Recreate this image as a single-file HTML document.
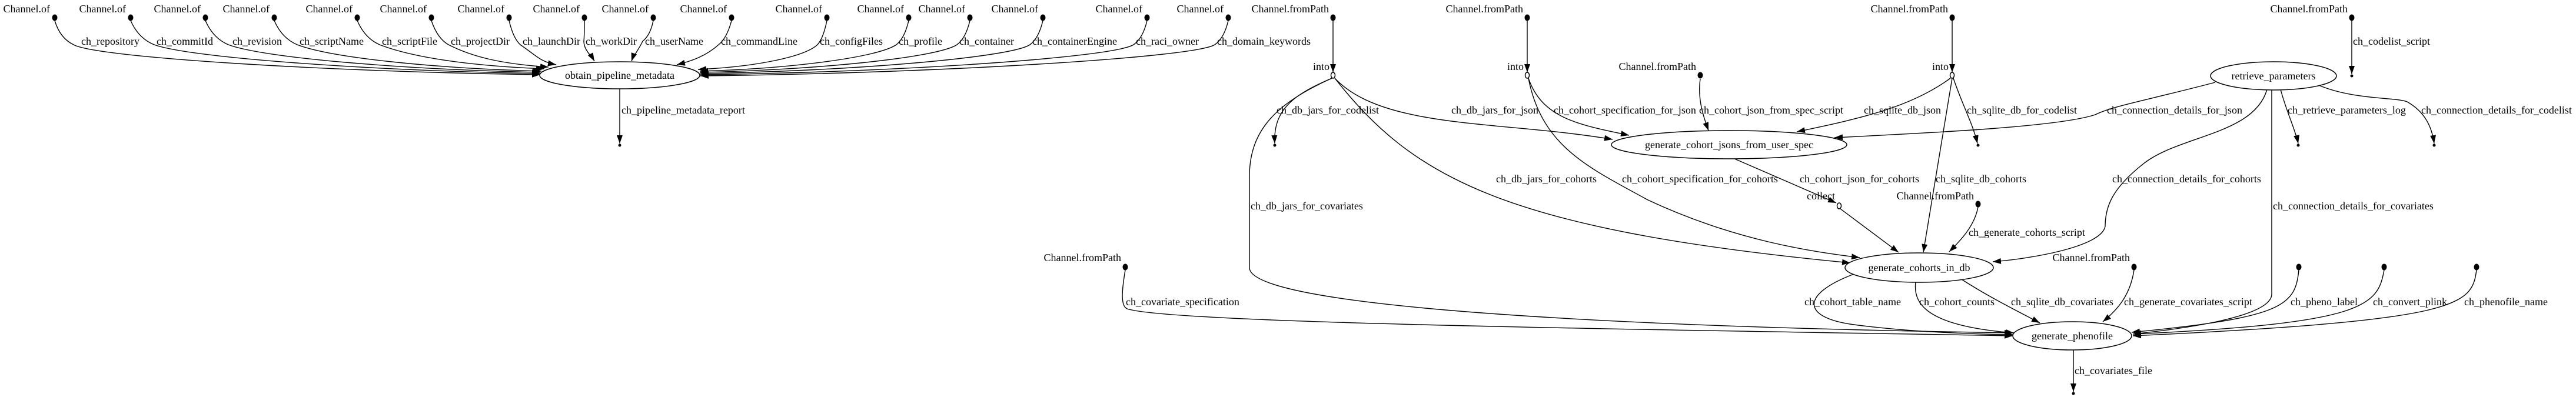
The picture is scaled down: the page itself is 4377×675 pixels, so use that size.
<!DOCTYPE html>
<html><head><meta charset="utf-8"><style>
html,body{margin:0;padding:0;background:#fff;}
svg{display:block;}
text{font-family:"Liberation Serif",serif;font-size:18px;fill:#000;}
.e{fill:none;stroke:#000;stroke-width:1.4;}
</style></head><body>
<svg width="4377" height="675" viewBox="0 0 4377 675" xmlns="http://www.w3.org/2000/svg">
<defs>
<marker id="a" markerWidth="14" markerHeight="10" refX="14" refY="5" orient="auto" markerUnits="userSpaceOnUse">
<path d="M0,0 L14,5 L0,10 z" fill="#000"/></marker>
</defs>

<g fill="#000">
<ellipse cx="93" cy="30" rx="4.5" ry="5.5"/><ellipse cx="222" cy="30" rx="4.5" ry="5.5"/><ellipse cx="349" cy="30" rx="4.5" ry="5.5"/><ellipse cx="466" cy="30" rx="4.5" ry="5.5"/><ellipse cx="607" cy="30" rx="4.5" ry="5.5"/><ellipse cx="733" cy="30" rx="4.5" ry="5.5"/><ellipse cx="865" cy="30" rx="4.5" ry="5.5"/><ellipse cx="993" cy="30" rx="4.5" ry="5.5"/><ellipse cx="1110" cy="30" rx="4.5" ry="5.5"/><ellipse cx="1243" cy="30" rx="4.5" ry="5.5"/><ellipse cx="1405" cy="30" rx="4.5" ry="5.5"/><ellipse cx="1544" cy="30" rx="4.5" ry="5.5"/><ellipse cx="1648" cy="30" rx="4.5" ry="5.5"/><ellipse cx="1772" cy="30" rx="4.5" ry="5.5"/><ellipse cx="1949" cy="30" rx="4.5" ry="5.5"/><ellipse cx="2087" cy="30" rx="4.5" ry="5.5"/>
<ellipse cx="2265" cy="30" rx="4.5" ry="5.5"/><ellipse cx="2595" cy="30" rx="4.5" ry="5.5"/><ellipse cx="3317" cy="30" rx="4.5" ry="5.5"/><ellipse cx="3996" cy="30" rx="4.5" ry="5.5"/>
<ellipse cx="2889" cy="128" rx="4.5" ry="5.5"/><ellipse cx="3361" cy="347" rx="4.5" ry="5.5"/><ellipse cx="3626" cy="454" rx="4.5" ry="5.5"/><ellipse cx="1912" cy="454" rx="4.5" ry="5.5"/>
<ellipse cx="3906" cy="454" rx="4.5" ry="5.5"/><ellipse cx="4051" cy="454" rx="4.5" ry="5.5"/><ellipse cx="4208" cy="454" rx="4.5" ry="5.5"/>
<circle cx="1053" cy="247" r="2.5"/><circle cx="2166" cy="247" r="2.5"/><circle cx="3361" cy="247" r="2.5"/><circle cx="3905" cy="247" r="2.5"/><circle cx="4136" cy="247" r="2.5"/><circle cx="3996" cy="129" r="2.5"/><circle cx="3523" cy="669" r="2.5"/>
</g>

<g text-anchor="end">
<text x="85" y="21">Channel.of</text><text x="214" y="21">Channel.of</text><text x="341" y="21">Channel.of</text><text x="458" y="21">Channel.of</text><text x="599" y="21">Channel.of</text><text x="725" y="21">Channel.of</text><text x="857" y="21">Channel.of</text><text x="985" y="21">Channel.of</text><text x="1102" y="21">Channel.of</text><text x="1235" y="21">Channel.of</text><text x="1397" y="21">Channel.of</text><text x="1536" y="21">Channel.of</text><text x="1640" y="21">Channel.of</text><text x="1764" y="21">Channel.of</text><text x="1941" y="21">Channel.of</text><text x="2079" y="21">Channel.of</text>
<text x="2258" y="21">Channel.fromPath</text><text x="2588" y="21">Channel.fromPath</text><text x="3310" y="21">Channel.fromPath</text><text x="3989" y="21">Channel.fromPath</text>
<text x="2882" y="119">Channel.fromPath</text><text x="3354" y="339">Channel.fromPath</text><text x="3619" y="444">Channel.fromPath</text><text x="1905" y="444">Channel.fromPath</text>
<text x="2259" y="119">into</text><text x="2589" y="119">into</text><text x="3311" y="119">into</text><text x="3118" y="339">collect</text>
</g>

<g class="e" marker-end="url(#a)">
<path d="M93,35 Q102,65 125,76 C165,98 557,122 918,127"/>
<path d="M222,35 Q235,65 262,76 C322,98 623,120 918,125"/>
<path d="M349,35 Q362,65 388,76 C446,98 680,118 918,123"/>
<path d="M466,35 Q479,65 505,76 C563,98 733,116 920,121"/>
<path d="M607,35 Q620,65 645,76 C702,98 799,112 925,117"/>
<path d="M733,35 Q743,65 762,76 C805,98 856,109 932,114"/>
<path d="M865,35 Q872,65 884,76 C912,95 918,105 945,110"/>
<path d="M993,35 Q993,60 992,70 C992,85 1005,95 1010,104"/>
<path d="M1110,35 Q1105,60 1092,70 C1085,85 1076,95 1073,104"/>
<path d="M1243,35 Q1235,65 1221,76 C1200,95 1175,104 1150,110"/>
<path d="M1405,35 Q1399,65 1389,76 C1365,98 1277,114 1186,118"/>
<path d="M1544,35 Q1537,65 1523,76 C1491,98 1339,117 1189,121"/>
<path d="M1648,35 Q1641,65 1626,76 C1593,98 1386,119 1189,123"/>
<path d="M1772,35 Q1765,65 1750,76 C1717,98 1442,121 1190,125"/>
<path d="M1949,35 Q1942,65 1926,76 C1891,98 1521,123 1190,127"/>
<path d="M2087,35 Q2080,65 2064,76 C2030,98 1583,125 1190,129"/>
<path d="M1053,151 L1053,244"/>

<path d="M2265,35 L2265,123"/>
<path d="M2595,35 L2595,123"/>
<path d="M3317,35 L3317,123"/>
<path d="M3996,35 L3996,126"/>

<path d="M2263,133 C2200,160 2163,185 2166,244"/>
<path d="M2263,133 C2170,175 2123,220 2123,300 L2123,455 C2123,520 2700,555 3420,566"/>
<path d="M2268,133 C2350,220 2550,205 2740,237"/>
<path d="M2268,133 C2400,300 2550,390 3144,447"/>
<path d="M2597,133 C2620,200 2680,212 2768,230"/>
<path d="M2597,133 C2620,250 2700,285 2800,340 C2950,410 3080,428 3160,438"/>
<path d="M2889,134 C2884,170 2895,200 2903,222"/>
<path d="M2945,269 L3120,345"/>
<path d="M3127,355 L3226,429"/>
<path d="M3314,133 C3250,180 3170,200 3053,224"/>
<path d="M3319,133 C3335,180 3352,210 3360,244"/>
<path d="M3317,133 L3268,429"/>
<path d="M3361,352 C3355,385 3330,410 3312,428"/>

<path d="M3764,140 C3650,170 3590,180 3560,195 C3500,215 3300,225 3117,234"/>
<path d="M3875,152 C3885,190 3900,220 3905,244"/>
<path d="M3940,145 C4000,170 4070,165 4090,173 C4120,190 4132,215 4136,244"/>
<path d="M3852,152 C3830,230 3700,230 3640,280 C3590,320 3577,350 3577,385 C3570,420 3450,440 3386,445"/>
<path d="M3860,152 L3860,500 C3860,540 3700,560 3624,568"/>

<path d="M3150,466 C3060,500 3060,540 3150,552 C3250,565 3350,568 3420,569"/>
<path d="M3255,480 C3250,520 3280,555 3422,566"/>
<path d="M3333,475 C3380,505 3420,525 3466,549"/>
<path d="M3626,459 C3620,500 3600,525 3573,547"/>
<path d="M1912,459 C1905,500 1905,520 1915,525 C1990,550 2800,560 3420,571"/>
<path d="M3906,459 C3900,520 3880,540 3622,565"/>
<path d="M4051,459 C4040,520 4020,550 3624,568"/>
<path d="M4208,459 C4200,520 4180,545 3624,571"/>
<path d="M3523,595 L3523,666"/>
</g>

<g fill="#fff" stroke="#000" stroke-width="1.5">
<ellipse cx="1053" cy="128" rx="136" ry="23"/>
<ellipse cx="2938" cy="246" rx="200" ry="24"/>
<ellipse cx="3863" cy="129" rx="107" ry="24"/>
<ellipse cx="3261" cy="455" rx="126" ry="25"/>
<ellipse cx="3521" cy="571" rx="101" ry="24"/>
<ellipse cx="2265" cy="128" rx="3.5" ry="5"/>
<ellipse cx="2595" cy="128" rx="3.5" ry="5"/>
<ellipse cx="3317" cy="128" rx="3.5" ry="5"/>
<ellipse cx="3125" cy="350" rx="3.5" ry="5"/>
</g>
<g text-anchor="middle">
<text x="1053" y="134">obtain_pipeline_metadata</text>
<text x="2938" y="252">generate_cohort_jsons_from_user_spec</text>
<text x="3863" y="135">retrieve_parameters</text>
<text x="3261" y="461">generate_cohorts_in_db</text>
<text x="3521" y="577">generate_phenofile</text>
</g>

<g>
<text x="138" y="76">ch_repository</text><text x="266" y="76">ch_commitId</text><text x="395" y="76">ch_revision</text><text x="509" y="76">ch_scriptName</text><text x="649" y="76">ch_scriptFile</text><text x="766" y="76">ch_projectDir</text><text x="888" y="76">ch_launchDir</text><text x="995" y="76">ch_workDir</text><text x="1096" y="76">ch_userName</text><text x="1225" y="76">ch_commandLine</text><text x="1393" y="76">ch_configFiles</text><text x="1527" y="76">ch_profile</text><text x="1630" y="76">ch_container</text><text x="1754" y="76">ch_containerEngine</text><text x="1930" y="76">ch_raci_owner</text><text x="2068" y="76">ch_domain_keywords</text>
<text x="3998" y="76">ch_codelist_script</text>
<text x="1056" y="193">ch_pipeline_metadata_report</text>
<text x="2169" y="193">ch_db_jars_for_codelist</text>
<text x="2466" y="193">ch_db_jars_for_json</text>
<text x="2640" y="193">ch_cohort_specification_for_json</text>
<text x="2887" y="193">ch_cohort_json_from_spec_script</text>
<text x="3167" y="193">ch_sqlite_db_json</text>
<text x="3342" y="193">ch_sqlite_db_for_codelist</text>
<text x="3580" y="193">ch_connection_details_for_json</text>
<text x="3887" y="193">ch_retrieve_parameters_log</text>
<text x="4114" y="193">ch_connection_details_for_codelist</text>
<text x="2542" y="310">ch_db_jars_for_cohorts</text>
<text x="2756" y="310">ch_cohort_specification_for_cohorts</text>
<text x="3058" y="310">ch_cohort_json_for_cohorts</text>
<text x="3289" y="310">ch_sqlite_db_cohorts</text>
<text x="3589" y="310">ch_connection_details_for_cohorts</text>
<text x="2125" y="356">ch_db_jars_for_covariates</text>
<text x="3862" y="356">ch_connection_details_for_covariates</text>
<text x="3345" y="401">ch_generate_cohorts_script</text>
<text x="1913" y="519">ch_covariate_specification</text>
<text x="3066" y="519">ch_cohort_table_name</text>
<text x="3261" y="519">ch_cohort_counts</text>
<text x="3417" y="519">ch_sqlite_db_covariates</text>
<text x="3609" y="519">ch_generate_covariates_script</text>
<text x="3892" y="519">ch_pheno_label</text>
<text x="4032" y="519">ch_convert_plink</text>
<text x="4187" y="519">ch_phenofile_name</text>
<text x="3525" y="636">ch_covariates_file</text>
</g>
</svg>
</body></html>
